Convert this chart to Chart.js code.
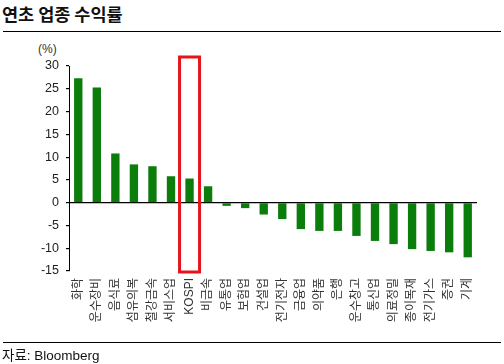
<!DOCTYPE html>
<html>
<head>
<meta charset="utf-8">
<script src="https://cdn.jsdelivr.net/npm/chart.js@4"></script>
<style>
  html, body { margin: 0; padding: 0; background: #fff; }
  #wrap { position: relative; width: 504px; height: 364px; overflow: hidden; }
  #title { position: absolute; left: 2px; top: 1px; font: bold 17.5px 'Noto Sans CJK KR', sans-serif; color: #111; }
  .rule { position: absolute; left: 3px; width: 498px; height: 0; border-top: 1.5px solid #000; }
  #unit { position: absolute; left: 38px; top: 42px; font: 12px 'Liberation Sans', 'Noto Sans CJK KR', sans-serif; color: #333; }
  #source { position: absolute; left: 2px; top: 344px; font: 13.5px 'Liberation Sans', 'Noto Sans CJK KR', sans-serif; color: #111; }
  canvas { position: absolute; left: 0; top: 0; }
</style>
</head>
<body>
<div id="wrap">
  <div id="title">연초 업종 수익률</div>
  <div class="rule" style="top:31px"></div>
  <div id="unit">(%)</div>
  <canvas id="c" width="504" height="364"></canvas>
  <div class="rule" style="top:342px"></div>
  <div id="source">자료: Bloomberg</div>
</div>
<script>
const sectors = ['화학', '운수장비', '음식료', '섬유의복', '철강금속', '서비스업', 'KOSPI', '비금속', '유통업', '보험업', '건설업',
  '전기전자', '금융업', '의약품', '은행', '운수창고', '통신업', '의료정밀', '종이목재', '전기가스', '증권', '기계'];
const returns = [27.3, 25.3, 10.8, 8.4, 8.0, 5.8, 5.3, 3.6, -0.7, -1.2, -2.6,
  -3.6, -5.8, -6.2, -6.2, -7.3, -8.4, -9.1, -10.2, -10.6, -10.9, -12.0];
const yTicks = [30, 25, 20, 15, 10, 5, 0, -5, -10, -15];
const highlight = 'KOSPI';

// red box round the KOSPI column
const boxPlugin = {
  id: 'kospiBox',
  afterDatasetsDraw(chart) {
    const { ctx, scales: { x, y } } = chart;
    const cx = x.getPixelForValue(sectors.indexOf(highlight));
    ctx.save();
    ctx.strokeStyle = '#e8141b';
    ctx.lineWidth = 3;
    ctx.strokeRect(cx - 10, y.top - 9, 20, y.bottom - y.top + 10);
    ctx.restore();
  },
};

new Chart(document.getElementById('c'), {
  type: 'bar',
  data: {
    labels: sectors,
    datasets: [{ data: returns, backgroundColor: '#0a7d0a', barPercentage: 0.45, categoryPercentage: 1 }],
  },
  options: {
    responsive: false,
    animation: false,
    layout: { padding: { top: 66, right: 27, bottom: 0, left: 0 } },
    plugins: { legend: { display: false }, tooltip: { enabled: false } },
    scales: {
      x: {
        grid: { display: false, drawTicks: false },
        border: { display: false },
        ticks: {
          autoSkip: false, minRotation: 90, maxRotation: 90, padding: 7,
          color: '#333', font: { family: "'Liberation Sans', 'Noto Sans CJK KR', sans-serif", size: 12 },
        },
        afterFit(s) { s.height = 93; },
      },
      y: {
        min: -15, max: 30,
        afterBuildTicks(s) { s.ticks = yTicks.map(v => ({ value: v })); },
        grid: {
          color: c => (c.tick && c.tick.value === 0 ? '#000' : 'rgba(0,0,0,0)'),
          lineWidth: 1.2, tickLength: 3, tickColor: '#000',
        },
        border: { color: '#000', width: 1 },
        ticks: {
          padding: 7, color: '#222',
          font: { family: "'Liberation Sans', Arial, sans-serif", size: 12.5 },
        },
        afterFit(s) { s.width = 69; },
      },
    },
  },
  plugins: [boxPlugin],
});
</script>
</body>
</html>
